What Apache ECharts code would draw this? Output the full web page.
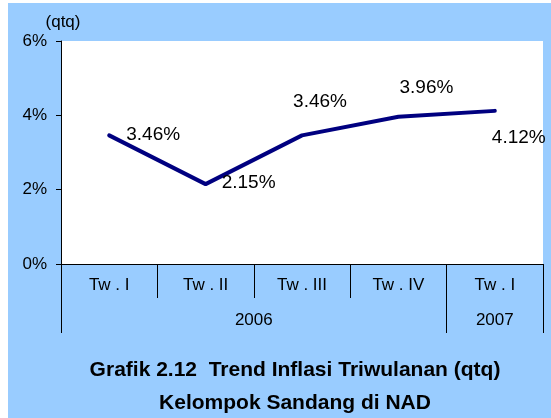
<!DOCTYPE html>
<html>
<head>
<meta charset="utf-8">
<script src="https://cdn.jsdelivr.net/npm/echarts@6/dist/echarts.min.js"></script>
<style>html,body{margin:0;padding:0;background:#fff}#c{width:551px;height:418px}</style>
</head>
<body>
<div id="c"></div>
<script>
const categories = ['Tw . I', 'Tw . II', 'Tw . III', 'Tw . IV', 'Tw . I'];
const values = [3.46, 2.15, 3.46, 3.96, 4.12];
const years = ['2006', '2007'];
const yearSpans = [4, 1];
const yTicks = [0, 2, 4, 6];
const titleText = 'Grafik 2.12  Trend Inflasi Triwulanan (qtq)\nKelompok Sandang di NAD';
const unitLabel = '(qtq)';

const labelOffsets = [[44, -1], [43, -1], [18, -34], [28, -29], [24, 27]];

const boundaries = [0];
const yearCenters = [];
yearSpans.forEach(s => {
  const start = boundaries[boundaries.length - 1];
  yearCenters.push(start + s / 2);
  boundaries.push(start + s);
});

const FONT = 'Arial, "Liberation Sans", sans-serif';
const chart = echarts.init(document.getElementById('c'), null, {renderer: 'canvas'});
chart.setOption({
  backgroundColor: '#fff',
  animation: false,
  textStyle: {fontFamily: FONT},
  graphic: [{
    type: 'rect', z: -10,
    shape: {x: 8, y: 3, width: 543, height: 415},
    style: {fill: '#99CCFF'}
  }],
  title: {
    text: titleText,
    left: 290, top: 349, textAlign: 'center',
    textStyle: {fontSize: 21, fontWeight: 'bold', color: '#000', lineHeight: 33, fontFamily: FONT}
  },
  grid: {left: 61, right: 8, top: 41, bottom: 154, show: true, backgroundColor: '#fff', borderWidth: 0},
  xAxis: [{
    type: 'category', data: categories, boundaryGap: true, position: 'bottom',
    axisLine: {show: true, lineStyle: {color: '#000', width: 1}},
    axisTick: {show: true, alignWithLabel: false, interval: 0, length: 34, lineStyle: {color: '#000'}},
    axisLabel: {interval: 0, fontSize: 17, color: '#000', margin: 13, fontFamily: FONT},
    splitLine: {show: false}
  }, {
    type: 'value', min: 0, max: categories.length, position: 'bottom',
    axisLine: {show: false},
    axisTick: {show: true, customValues: boundaries, length: 69, lineStyle: {color: '#000'}},
    axisLabel: {
      customValues: yearCenters, margin: 48, fontSize: 17, color: '#000', fontFamily: FONT,
      formatter: v => years[yearCenters.indexOf(v)]
    },
    splitLine: {show: false}
  }],
  yAxis: {
    type: 'value', min: yTicks[0], max: yTicks[yTicks.length - 1], interval: yTicks[1] - yTicks[0],
    name: unitLabel, nameLocation: 'end', nameGap: 10,
    nameTextStyle: {fontSize: 17, color: '#000', align: 'center', fontFamily: FONT, padding: [0, 0, 0, 4]},
    axisLine: {show: true, lineStyle: {color: '#000', width: 1}},
    axisTick: {show: true, length: 5, lineStyle: {color: '#000'}},
    axisLabel: {formatter: '{value}%', fontSize: 17, color: '#000', margin: 14, fontFamily: FONT},
    splitLine: {show: false}
  },
  series: [{
    type: 'line', xAxisIndex: 0, yAxisIndex: 0,
    data: values.map((v, i) => ({value: v, label: {offset: labelOffsets[i]}})),
    symbol: 'circle', symbolSize: 1, showSymbol: true,
    itemStyle: {color: '#000080'},
    lineStyle: {color: '#000080', width: 4, cap: 'round', join: 'round'},
    label: {
      show: true, position: 'inside', fontSize: 19, color: '#000', fontFamily: FONT,
      formatter: p => p.value.toFixed(2) + '%'
    }
  }]
});
</script>
</body>
</html>
